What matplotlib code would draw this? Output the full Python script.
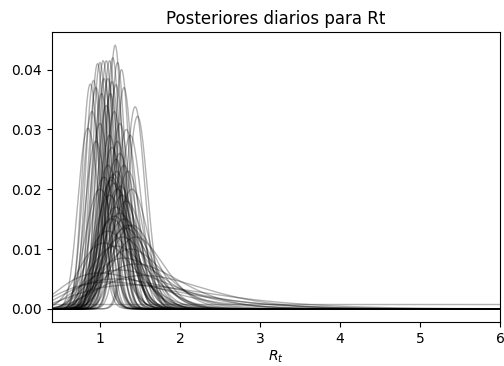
import matplotlib
matplotlib.use("Agg")
import matplotlib.pyplot as plt
import numpy as np

# grid of Rt values (0..12, step 0.01)
r_t_range = np.linspace(0, 12, 1201)

# daily posteriors: mode of each curve and its peak height
modes = [1.19, 1.16, 1.12, 1.08, 1.04, 1.00, 0.97, 1.22, 1.27, 1.30,
         0.92, 0.88, 0.95, 1.05, 1.10, 1.15, 1.20, 1.13, 1.02,
         1.44, 1.47, 0.85, 1.00, 0.90, 1.08, 1.18, 1.25, 1.33, 1.12,
         0.95, 1.22, 1.38,
         1.15, 1.20, 1.25, 1.10, 1.30, 1.35, 1.15, 1.18, 1.22, 1.05,
         1.28, 1.40, 1.12, 1.00, 1.33, 1.17, 1.14, 1.21, 1.26,
         1.20, 1.25, 1.30, 1.15, 1.35, 1.40, 1.10, 1.28, 1.45, 1.05,
         1.20, 1.38, 1.18, 1.32,
         1.30, 1.45, 1.25, 1.55, 1.20, 1.10, 1.40, 1.00]
peaks = [0.0441, 0.0420, 0.0415, 0.0415, 0.0415, 0.0412, 0.0410, 0.0412, 0.0400, 0.0370,
         0.0382, 0.0376, 0.0370, 0.0385, 0.0385, 0.0380, 0.0375, 0.0360, 0.0360,
         0.0338, 0.0322, 0.0302, 0.0310, 0.0330, 0.0340, 0.0330, 0.0310, 0.0300, 0.0290,
         0.0280, 0.0280, 0.0290,
         0.0270, 0.0250, 0.0260, 0.0240, 0.0240, 0.0230, 0.0220, 0.0210, 0.0200, 0.0220,
         0.0190, 0.0200, 0.0190, 0.0200, 0.0180, 0.0225, 0.0215, 0.0230, 0.0205,
         0.0170, 0.0160, 0.0150, 0.0150, 0.0140, 0.0140, 0.0130, 0.0120, 0.0120, 0.0110,
         0.0105, 0.0100, 0.0155, 0.0135,
         0.0085, 0.0075, 0.0065, 0.0056, 0.0050, 0.0045, 0.0040, 0.0060]

dx = r_t_range[1] - r_t_range[0]

# first day: flat prior
posteriors = [np.ones_like(r_t_range) / len(r_t_range)]
for m, h in zip(modes, peaks):
    sigma = dx / (h * np.sqrt(2 * np.pi))
    theta = (-m + np.sqrt(m ** 2 + 4 * sigma ** 2)) / 2
    k = m / theta + 1
    with np.errstate(divide='ignore'):
        logp = (k - 1) * np.log(r_t_range) - r_t_range / theta
    logp -= np.max(logp)
    posteriors.append(np.exp(logp) * h)
posteriors = np.array(posteriors)

fig = plt.figure(figsize=(5.04, 3.66), dpi=100)
ax = fig.add_axes([0.103, 0.12, 0.889, 0.793])
ax.plot(r_t_range, posteriors.T, c='k', lw=1, alpha=.3)
ax.set_xlim(0.4, 6)
ax.set_title('Posteriores diarios para Rt')
ax.set_xlabel('$R_t$', labelpad=2)

fig.savefig('out.png', dpi=100)
